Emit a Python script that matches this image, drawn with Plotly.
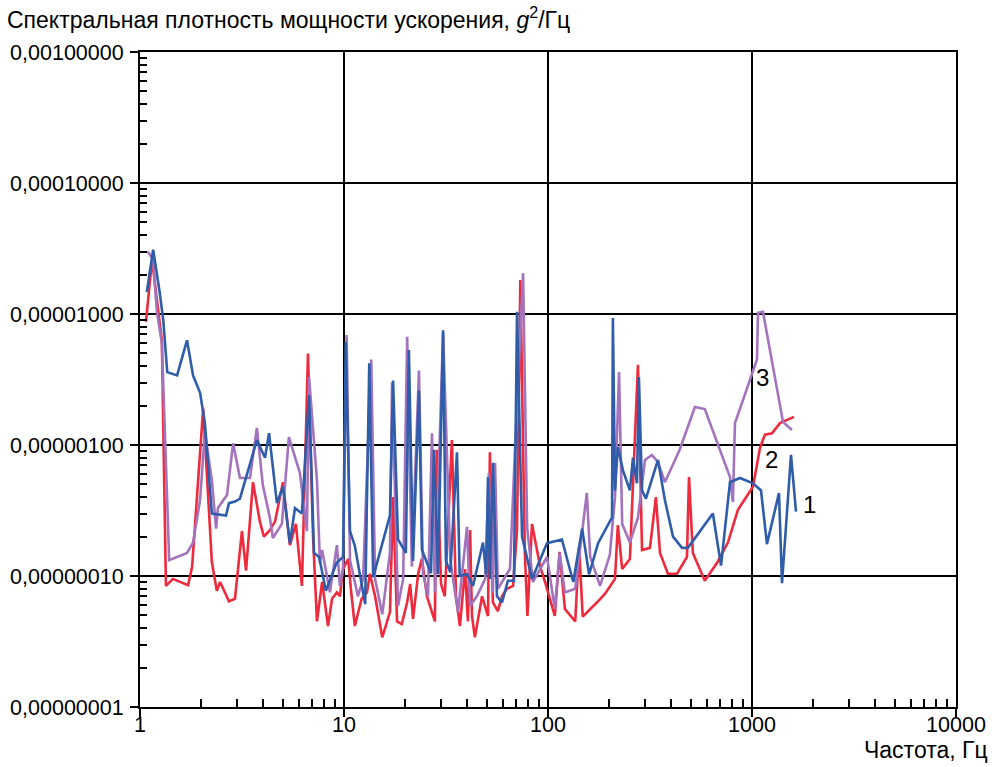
import math
import plotly.graph_objects as go

# Series 1 (blue)
freq_1 = [1.08, 1.16, 1.25, 1.30, 1.36, 1.52, 1.70, 1.82, 1.97, 2.08, 2.25, 2.64, 2.73, 2.92, 3.09,
          3.74, 4.10, 4.29, 4.69, 5.02, 5.43, 5.75, 6.22, 6.74, 7.13, 7.55, 8.15, 9.2, 9.9,
          10.2, 10.7, 11.3, 12.7, 13.3, 13.9, 16.8, 17.4, 18.4, 20.1, 20.8, 21.8, 23.3, 24.1,
          26.7, 27.6, 28.9, 30.6, 31.6, 33.2, 35.8, 36.9, 40.1, 42.9, 48.0, 49.8, 50.8, 51.9,
          53.7, 56.2, 59.5, 63.6, 68.1, 70.5, 74.6, 83.5, 98.9, 117, 125, 133, 147, 159, 176,
          206, 208, 213, 220, 233, 252, 261, 273, 279, 289, 302, 346, 374, 410, 454, 485,
          643, 705, 780, 873, 1011, 1107, 1184, 1356, 1403, 1553, 1643]
psd_1 = [1.47e-5, 3.1e-5, 1.45e-5, 9.0e-6, 3.6e-6, 3.4e-6, 6.3e-6, 3.4e-6, 2.5e-6, 1.47e-6,
         3.0e-7, 2.9e-7, 3.6e-7, 3.7e-7, 3.9e-7, 1.09e-6, 8.0e-7, 1.23e-6, 3.6e-7, 4.8e-7,
         1.78e-7, 3.3e-7, 3.0e-7, 2.4e-6, 1.5e-7, 1.4e-7, 7.7e-8, 1.26e-7, 1.4e-7,
         6.1e-6, 2.2e-7, 1.7e-7, 6.1e-8, 4.2e-6, 9.8e-8, 2.9e-7, 3.1e-6, 1.9e-7, 1.5e-7,
         5.3e-6, 1.3e-7, 2.6e-6, 1.58e-7, 1.05e-7, 9.2e-7, 1.03e-7, 7.5e-6, 1.3e-7, 1.07e-7,
         8.8e-7, 1.0e-7, 1.03e-7, 8.4e-8, 1.8e-7, 1.03e-7, 5.7e-7, 9.5e-8, 7.3e-7, 7.0e-8,
         6.3e-8, 9.2e-8, 9.2e-8, 1.04e-5, 2.0e-7, 9.5e-8, 1.78e-7, 1.9e-7, 1.32e-7, 9.0e-8,
         2.3e-7, 1.03e-7, 1.78e-7, 2.8e-7, 9.3e-6, 4.5e-7, 9.7e-7, 6.4e-7, 4.5e-7, 8.0e-7,
         5.1e-7, 3.3e-6, 4.5e-7, 3.9e-7, 7.7e-7, 3.8e-7, 2.0e-7, 1.64e-7, 1.64e-7, 3.0e-7,
         1.2e-7, 5.2e-7, 5.6e-7, 5.1e-7, 4.5e-7, 1.75e-7, 4.3e-7, 8.8e-8, 8.4e-7, 3.1e-7]

# Series 2 (red)
freq_2 = [1.07, 1.145, 1.28, 1.34, 1.45, 1.72, 1.80, 2.04, 2.25, 2.38, 2.47, 2.73, 2.92, 3.16,
          3.31, 3.58, 3.87, 4.05, 4.33, 4.59, 5.02, 5.43, 5.81, 6.22, 6.66, 7.05, 7.37, 7.81,
          8.35, 8.74, 9.23, 9.55, 9.89, 10.5, 10.8, 11.3, 12.2, 12.96, 13.4, 14.2, 15.4, 16.8,
          17.4, 18.2, 19.2, 20.4, 21.1, 21.8, 23.1, 24.1, 25.5, 27.9, 28.5, 29.9, 31.2, 33.8,
          35.4, 37.0, 39.2, 40.5, 41.5, 42.4, 43.8, 47.5, 50.8, 51.9, 53.7, 56.8, 59.5, 62.9,
          67.4, 70.5, 73.2, 77.0, 79.3, 83.5, 91.5, 96.7, 108, 114, 121, 136, 142, 148, 174,
          190, 213, 220, 231, 252, 276, 289, 316, 338, 354, 387, 429, 480, 491, 513, 587, 674,
          762, 853, 1011, 1094, 1158, 1253, 1371, 1484, 1606]
psd_2 = [8.7e-6, 2.6e-5, 6.3e-6, 8.4e-8, 9.5e-8, 8.5e-8, 1.17e-7, 1.9e-6, 1.28e-7, 7.7e-8,
         9.0e-8, 6.4e-8, 6.7e-8, 2.2e-7, 1.1e-7, 5.2e-7, 2.6e-7, 2.0e-7, 2.24e-7, 2.6e-7,
         5.2e-7, 1.72e-7, 2.5e-7, 8.4e-8, 5.0e-6, 2.0e-7, 4.5e-8, 9.0e-8, 4.15e-8, 6.7e-8,
         7.5e-8, 7.0e-8, 1.13e-7, 1.35e-7, 8.0e-8, 4.15e-8, 6.7e-8, 7.5e-8, 1.04e-7, 7.0e-8,
         3.4e-8, 5.3e-8, 4.0e-7, 4.5e-8, 4.3e-8, 6.3e-8, 8.7e-8, 4.7e-8, 1.04e-7, 1.35e-7,
         7.0e-8, 4.5e-8, 9.2e-7, 8.7e-8, 7.0e-8, 1.09e-6, 7.0e-8, 4.15e-8, 1.13e-7, 4.5e-8,
         2.24e-7, 4.95e-8, 3.4e-8, 7.0e-8, 4.95e-8, 8.8e-7, 6.3e-8, 5.4e-8, 7.0e-8, 8.0e-8,
         8.4e-8, 2.24e-7, 1.82e-5, 1.5e-7, 4.95e-8, 2.5e-7, 1.18e-7, 9.0e-8, 4.95e-8, 1.53e-7,
         5.6e-8, 4.5e-8, 1.66e-7, 4.9e-8, 6.3e-8, 7.3e-8, 9.5e-8, 2.45e-7, 1.13e-7, 1.35e-7,
         4.1e-6, 1.58e-7, 1.64e-7, 4.0e-7, 1.5e-7, 1.04e-7, 1.04e-7, 1.4e-7, 5.7e-7, 1.5e-7,
         9.2e-8, 1.26e-7, 1.8e-7, 3.2e-7, 4.8e-7, 9.5e-7, 1.2e-6, 1.23e-6, 1.47e-6, 1.55e-6,
         1.64e-6]

# Series 3 (purple)
freq_3 = [1.09, 1.16, 1.21, 1.28, 1.39, 1.70, 1.82, 1.97, 2.08, 2.25, 2.36, 2.41, 2.67, 2.86,
          3.09, 3.46, 3.74, 4.0, 4.33, 4.48, 4.96, 5.37, 6.08, 6.58, 6.74, 7.37, 7.62, 7.81,
          8.53, 9.23, 9.55, 9.89, 10.3, 10.7, 11.7, 12.4, 13.6, 14.2, 15.4, 16.8, 17.2, 18.4,
          19.5, 20.4, 21.5, 23.3, 24.4, 25.8, 27.0, 27.9, 30.6, 33.2, 36.2, 40.1, 41.5, 44.8,
          49.2, 51.3, 53.7, 55.0, 56.8, 65.1, 68.9, 75.5, 79.0, 84.3, 98.9, 108, 114, 121, 136,
          155, 161, 180, 201, 213, 223, 231, 252, 276, 299, 323, 346, 374, 442, 525, 587, 780,
          806, 825, 903, 1058, 1070, 1132, 1419, 1570]
psd_3 = [3.0e-5, 2.6e-5, 1.04e-5, 6.0e-6, 1.32e-7, 1.5e-7, 1.8e-7, 3.8e-7, 1.26e-6, 5.4e-7,
         2.3e-7, 3.3e-7, 4.15e-7, 1.03e-6, 5.6e-7, 5.6e-7, 1.35e-6, 4.95e-7, 2.8e-7, 1.95e-7,
         2.5e-7, 1.15e-6, 6.1e-7, 2.2e-7, 3.3e-6, 5.4e-7, 1.26e-7, 1.58e-7, 7.5e-8, 1.72e-7,
         8.4e-8, 1.13e-7, 6.9e-6, 1.32e-7, 7.0e-8, 9.5e-8, 4.5e-6, 9.5e-8, 5.1e-8, 1.5e-7,
         3.0e-6, 5.9e-8, 9.5e-8, 6.7e-6, 1.18e-7, 3.7e-6, 1.04e-7, 7.0e-8, 1.23e-6, 7.5e-8,
         7.2e-6, 1.32e-7, 5.3e-8, 2.37e-7, 5.9e-8, 7.0e-8, 9.5e-8, 6.1e-7, 7.5e-8, 7.3e-7,
         8.0e-8, 1.13e-7, 9.2e-7, 2.05e-5, 2.37e-7, 9.0e-8, 1.4e-7, 5.6e-8, 1.5e-7, 7.5e-8,
         8.0e-8, 4.3e-7, 1.4e-7, 8.4e-8, 1.45e-7, 4.0e-7, 3.6e-6, 2.5e-7, 1.8e-7, 2.8e-7,
         7.7e-7, 8.4e-7, 7.4e-7, 5.2e-7, 9.2e-7, 1.95e-6, 1.88e-6, 5.7e-7, 3.67e-7, 1.47e-6,
         2.2e-6, 4.5e-6, 1.02e-5, 1.04e-5, 1.5e-6, 1.3e-6]

# Axis ticks
x_tick_vals = [1, 10, 100, 1000, 10000]
x_tick_text = ["1", "10", "100", "1000", "10000"]
y_tick_vals = [1e-8, 1e-7, 1e-6, 1e-5, 1e-4, 1e-3]
y_tick_text = ["0,00000001", "0,00000010", "0,00000100", "0,00001000", "0,00010000", "0,00100000"]
x_minor_vals = [k * 10 ** d for d in range(0, 4) for k in range(2, 10)]
y_minor_vals = [k * 10.0 ** d for d in range(-8, -3) for k in range(2, 10)]

# Curve number labels: (text, frequency, PSD)
curve_labels = [("3", 1120, 3.3e-6), ("2", 1253, 7.7e-7), ("1", 1923, 3.5e-7)]

BLUE = "#2F5DAA"
RED = "#EE2A3C"
PURPLE = "#A473BD"
FONT = "Liberation Sans, Arial, sans-serif"

X_RANGE = [0, 4]
Y_RANGE = [-8, -3]

fig = go.Figure()
for f, p, c in [(freq_2, psd_2, RED), (freq_3, psd_3, PURPLE), (freq_1, psd_1, BLUE)]:
    fig.add_trace(go.Scatter(x=f, y=p, mode="lines",
                             line=dict(color=c, width=2.6), showlegend=False))

# invisible carrier trace so the overlaid minor-tick axes get drawn
fig.add_trace(go.Scatter(x=[1], y=[1e-8], xaxis="x2", yaxis="y2", mode="markers",
                         marker=dict(opacity=0), showlegend=False, hoverinfo="skip"))

axis_common = dict(
    showgrid=True, gridcolor="black", gridwidth=1.5,
    showline=True, linecolor="black", linewidth=2, mirror=True,
    ticks="outside", ticklen=8, tickwidth=2, tickcolor="black",
    tickfont=dict(family=FONT, size=21.5, color="black"),
    zeroline=False, automargin=False,
)

fig.update_layout(
    xaxis=dict(type="log", range=X_RANGE, tickvals=x_tick_vals, ticktext=x_tick_text,
               ticklabelstandoff=-11, **axis_common),
    yaxis=dict(type="log", range=Y_RANGE, tickvals=y_tick_vals, ticktext=y_tick_text,
               ticklabelstandoff=2, **axis_common),
    xaxis2=dict(type="log", range=X_RANGE, overlaying="x", side="bottom", anchor="y",
                tickvals=x_minor_vals, ticks="inside", ticklen=8, tickwidth=1.5,
                tickcolor="black", showticklabels=False, showgrid=False, showline=False,
                zeroline=False, automargin=False),
    yaxis2=dict(type="log", range=Y_RANGE, overlaying="y", side="left", anchor="x",
                tickvals=y_minor_vals, ticks="inside", ticklen=7, tickwidth=1.5,
                tickcolor="black", showticklabels=False, showgrid=False, showline=False,
                zeroline=False, automargin=False),
)

annotations = [
    dict(text="Спектральная плотность мощности ускорения, <i>g</i><sup>2</sup>/Гц",
         xref="paper", yref="paper", x=-0.166, y=1.052, xanchor="left", yanchor="middle",
         showarrow=False, font=dict(family=FONT, size=23, color="black")),
    dict(text="Частота, Гц", xref="paper", yref="paper", x=1.0417, y=-0.065,
         xanchor="right", yanchor="middle", showarrow=False,
         font=dict(family=FONT, size=23, color="black")),
]
for txt, f, p in curve_labels:
    annotations.append(dict(text=txt, x=math.log10(f), y=math.log10(p), xref="x", yref="y",
                            showarrow=False, xanchor="center", yanchor="middle",
                            font=dict(family=FONT, size=24, color="black")))

fig.update_layout(
    width=992, height=767,
    margin=dict(l=140, r=36, t=52, b=60, autoexpand=False),
    paper_bgcolor="white", plot_bgcolor="white",
    annotations=annotations,
)

fig.write_html("out.html")
